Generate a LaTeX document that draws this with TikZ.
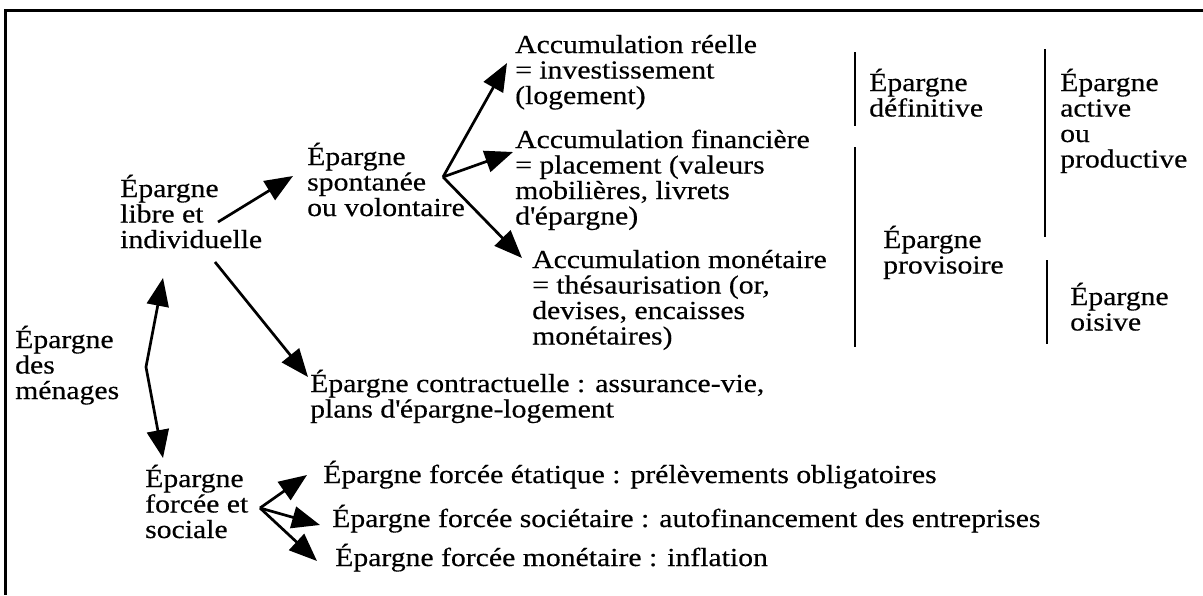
\documentclass[tikz,border=0pt]{standalone}
\usepackage{fontspec}
\setmainfont[FakeStretch=1.143,FakeBold=0.4]{Liberation Serif}
\usetikzlibrary{arrows.meta}
\newcommand\mlines[1]{\vtop{\baselineskip=25.5pt\lineskiplimit=-30pt\lineskip=0pt\halign{##\hfil\cr#1\crcr}}}
\newcommand\apos{\textquotesingle}
\begin{document}
\begin{tikzpicture}[x=1pt,y=-1pt,
  txt/.style={anchor=base west, inner sep=0pt, font=\fontsize{26}{25.5}\selectfont},
  arr/.style={line width=2.7pt, -{Triangle[length=28pt,width=22pt]}},
  dbl/.style={line width=2.7pt, {Triangle[length=28pt,width=22pt]}-{Triangle[length=28pt,width=22pt]}},
  bar/.style={line width=2.7pt},
  frame/.style={line width=3pt}]
\useasboundingbox (0,0) rectangle (1203,595);
% frame (top and left sides)
\coordinate (fr1) at (1203,10);
\coordinate (fr2) at (5,10);
\coordinate (fr3) at (5,595);
\draw[frame] (fr1) -- (fr2) -- (fr3);

% texts
\node[txt] (menages) at (15,348) {\mlines{Épargne\cr des\cr ménages}};
\node[txt] (libre) at (120,197) {\mlines{Épargne\cr libre et\cr individuelle}};
\node[txt] (spont) at (307,165) {\mlines{Épargne\cr spontanée\cr ou volontaire}};
\node[txt] (reelle) at (515,53) {\mlines{Accumulation réelle\cr = investissement\cr (logement)}};
\node[txt] (fin) at (515,148) {\mlines{Accumulation financière\cr = placement (valeurs\cr mobilières, livrets\cr d\apos épargne)}};
\node[txt] (mon) at (532,268) {\mlines{Accumulation monétaire\cr = thésaurisation (or,\cr devises, encaisses\cr monétaires)}};
\node[txt] (contr) at (310,392) {\mlines{Épargne contractuelle : assurance-vie,\cr plans d\apos épargne-logement}};
\node[txt] (forcee) at (145,487) {\mlines{Épargne\cr forcée et\cr sociale}};
\node[txt] (etat) at (323,483) {Épargne forcée étatique : prélèvements obligatoires};
\node[txt] (soc) at (332,527) {Épargne forcée sociétaire : autofinancement des entreprises};
\node[txt] (monf) at (335,566) {Épargne forcée monétaire : inflation};
\node[txt] (defin) at (869,91) {\mlines{Épargne\cr définitive}};
\node[txt] (prov) at (883,248) {\mlines{Épargne\cr provisoire}};
\node[txt] (active) at (1060,91) {\mlines{Épargne\cr active\cr ou\cr productive}};
\node[txt] (oisive) at (1070,305) {\mlines{Épargne\cr oisive}};

% connector points
\coordinate (m1) at (163,278);
\coordinate (mbend) at (146,367);
\coordinate (m2) at (163,458);
\coordinate (l1) at (218,222);
\coordinate (l1t) at (293,176);
\coordinate (l2) at (215,262);
\coordinate (l2t) at (308,377);
\coordinate (s0) at (443,177);
\coordinate (s1) at (507,63);
\coordinate (s2) at (513,152);
\coordinate (s3) at (522,258);
\coordinate (f0) at (260,508);
\coordinate (f1) at (307,475);
\coordinate (f2) at (320,525);
\coordinate (f3) at (317,561);

\draw[dbl] (m1) -- (mbend) -- (m2);
\draw[arr] (l1) -- (l1t);
\draw[arr] (l2) -- (l2t);
\draw[arr] (s0) -- (s1);
\draw[arr] (s0) -- (s2);
\draw[arr] (s0) -- (s3);
\draw[arr] (f0) -- (f1);
\draw[arr] (f0) -- (f2);
\draw[arr] (f0) -- (f3);

% vertical bars
\coordinate (b1a) at (855,52);  \coordinate (b1b) at (855,126);
\coordinate (b2a) at (855,147); \coordinate (b2b) at (855,347);
\coordinate (b3a) at (1045,49); \coordinate (b3b) at (1045,237);
\coordinate (b4a) at (1047,260); \coordinate (b4b) at (1047,344);
\draw[bar] (b1a) -- (b1b);
\draw[bar] (b2a) -- (b2b);
\draw[bar] (b3a) -- (b3b);
\draw[bar] (b4a) -- (b4b);
\end{tikzpicture}
\end{document}
